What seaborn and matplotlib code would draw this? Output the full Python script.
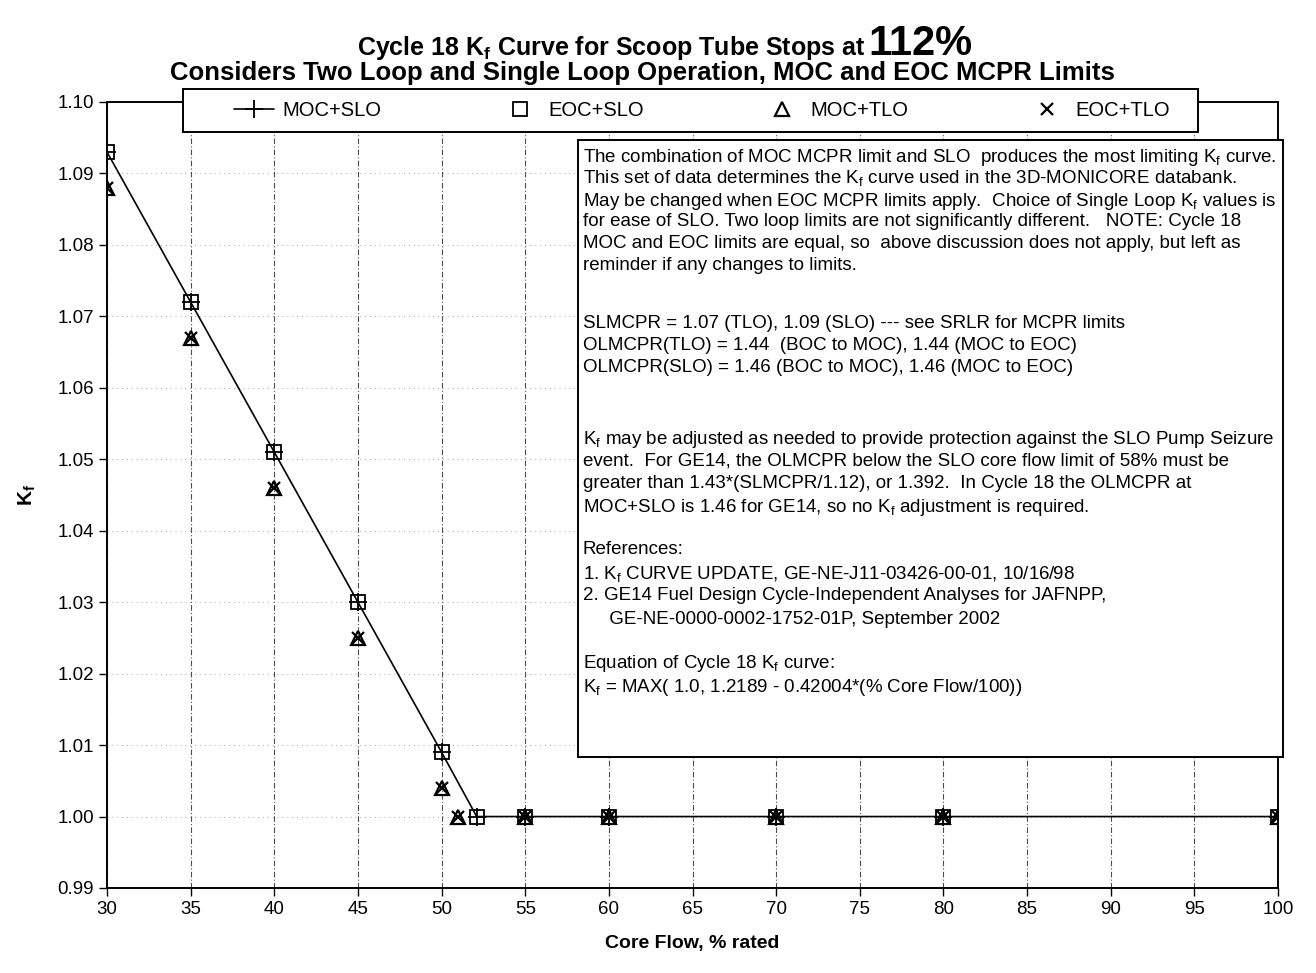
import matplotlib
matplotlib.use("Agg")
import matplotlib.pyplot as plt
import matplotlib.patches as mpatches
import seaborn as sns
import pandas as pd

# data
flow_slo = [30, 35, 40, 45, 50, 52.1, 55, 60, 70, 80, 100]
kf_moc_slo = [1.093, 1.072, 1.051, 1.030, 1.009, 1.000, 1.000, 1.000, 1.000, 1.000, 1.000]
kf_eoc_slo = [1.093, 1.072, 1.051, 1.030, 1.009, 1.000, 1.000, 1.000, 1.000, 1.000, 1.000]
flow_tlo = [30, 35, 40, 45, 50, 51, 55, 60, 70, 80, 100]
kf_moc_tlo = [1.088, 1.067, 1.046, 1.025, 1.004, 1.000, 1.000, 1.000, 1.000, 1.000, 1.000]
kf_eoc_tlo = [1.088, 1.067, 1.046, 1.025, 1.004, 1.000, 1.000, 1.000, 1.000, 1.000, 1.000]

x_ticks = [30, 35, 40, 45, 50, 55, 60, 65, 70, 75, 80, 85, 90, 95, 100]
y_ticks = [0.99, 1.00, 1.01, 1.02, 1.03, 1.04, 1.05, 1.06, 1.07, 1.08, 1.09, 1.10]

note_lines = [
    (154, "The combination of MOC MCPR limit and SLO  produces the most limiting K$_f$ curve."),
    (176, "This set of data determines the K$_f$ curve used in the 3D-MONICORE databank."),
    (198, "May be changed when EOC MCPR limits apply.  Choice of Single Loop K$_f$ values is"),
    (220, "for ease of SLO. Two loop limits are not significantly different.   NOTE: Cycle 18"),
    (242, "MOC and EOC limits are equal, so  above discussion does not apply, but left as"),
    (264, "reminder if any changes to limits."),
    (321, "SLMCPR = 1.07 (TLO), 1.09 (SLO) --- see SRLR for MCPR limits"),
    (344, "OLMCPR(TLO) = 1.44  (BOC to MOC), 1.44 (MOC to EOC)"),
    (366, "OLMCPR(SLO) = 1.46 (BOC to MOC), 1.46 (MOC to EOC)"),
    (436, "K$_f$ may be adjusted as needed to provide protection against the SLO Pump Seizure"),
    (459, "event.  For GE14, the OLMCPR below the SLO core flow limit of 58% must be"),
    (482, "greater than 1.43*(SLMCPR/1.12), or 1.392.  In Cycle 18 the OLMCPR at"),
    (505, "MOC+SLO is 1.46 for GE14, so no K$_f$ adjustment is required."),
    (548, "References:"),
    (571, "1. K$_f$ CURVE UPDATE, GE-NE-J11-03426-00-01, 10/16/98"),
    (594, "2. GE14 Fuel Design Cycle-Independent Analyses for JAFNPP,"),
    (617, "     GE-NE-0000-0002-1752-01P, September 2002"),
    (660, "Equation of Cycle 18 K$_f$ curve:"),
    (685, "K$_f$ = MAX( 1.0, 1.2189 - 0.42004*(% Core Flow/100))"),
]

df = pd.concat([
    pd.DataFrame({"flow": flow_slo, "kf": kf_moc_slo, "case": "MOC+SLO"}),
    pd.DataFrame({"flow": flow_slo, "kf": kf_eoc_slo, "case": "EOC+SLO"}),
    pd.DataFrame({"flow": flow_tlo, "kf": kf_moc_tlo, "case": "MOC+TLO"}),
    pd.DataFrame({"flow": flow_tlo, "kf": kf_eoc_tlo, "case": "EOC+TLO"}),
])

sns.set_theme(style="ticks")
plt.rcParams["font.family"] = ["Liberation Sans", "DejaVu Sans"]
plt.rcParams["mathtext.fontset"] = "custom"
plt.rcParams["mathtext.rm"] = "Liberation Sans"
plt.rcParams["mathtext.it"] = "Liberation Sans"
plt.rcParams["mathtext.bf"] = "Liberation Sans:bold"
for key in ["text.color", "axes.labelcolor", "xtick.color", "ytick.color", "axes.edgecolor"]:
    plt.rcParams[key] = "black"

W, H = 1316, 973
fig, ax = plt.subplots(figsize=(W / 100, H / 100), dpi=100)
fig.subplots_adjust(left=107 / W, right=1278 / W, top=1 - 102 / H, bottom=1 - 888 / H)

styles = {
    "MOC+SLO": dict(marker="+", markersize=13, markeredgewidth=1.3, linestyle="-", linewidth=1.2),
    "EOC+SLO": dict(marker="s", markersize=9.5, markeredgewidth=1.3, markerfacecolor="none", linestyle=""),
    "MOC+TLO": dict(marker="^", markersize=9.5, markeredgewidth=1.6, markerfacecolor="none", linestyle=""),
    "EOC+TLO": dict(marker="x", markersize=9, markeredgewidth=1.6, linestyle=""),
}
for case, kw in styles.items():
    sub = df[df["case"] == case]
    sns.lineplot(data=sub, x="flow", y="kf", ax=ax, color="black",
                 markeredgecolor="black", label=case, zorder=3, **kw)

ax.set_xlim(30, 100)
ax.set_ylim(0.99, 1.10)
ax.set_xticks(x_ticks)
ax.set_yticks(y_ticks)
ax.set_yticklabels([f"{v:.2f}" for v in y_ticks])
ax.tick_params(axis="both", labelsize=13.5, length=6, width=1, direction="out", color="black")
ax.xaxis.grid(True, color="0.3", linestyle=(0, (5, 2, 1, 2)), linewidth=0.8)
ax.yaxis.grid(True, color="0.65", linestyle=(0, (1, 4)), linewidth=0.7)
for s in ax.spines.values():
    s.set_visible(True)
    s.set_color("black")
    s.set_linewidth(1.4)

ax.set_xlabel("Core Flow, % rated", fontsize=14, fontweight="bold", labelpad=12)
ax.set_ylabel("K$_\\mathbf{f}$", fontsize=15, fontweight="bold", labelpad=14)

# legend: frame drawn separately so the entries can sit inset like the original
handles, labels = ax.get_legend_handles_labels()
ax.get_legend().remove()
leg_frame = mpatches.Rectangle((183 / W, 1 - 132 / H), (1198 - 183) / W, (132 - 89) / H,
                               transform=fig.transFigure, facecolor="white",
                               edgecolor="black", linewidth=1.4, zorder=4)
fig.patches.append(leg_frame)
fig.legend(handles, labels, loc="center left", ncol=4, mode="expand",
           bbox_to_anchor=(234 / W, 1 - 111 / H, (1170 - 234) / W, 0),
           frameon=False, fontsize=14.5, handlelength=2.0, handletextpad=0.4,
           borderaxespad=0, borderpad=0).set_zorder(6)

# title, with the larger 112%
title_fam = ["Liberation Sans Narrow", "Liberation Sans"]
fig.text(866 / W, 1 - 55 / H, "Cycle 18 K$_\\mathbf{f}$ Curve for Scoop Tube Stops at ",
         ha="right", va="baseline", fontsize=18, fontweight="bold", family=title_fam)
fig.text(868 / W, 1 - 55 / H, "112%", ha="left", va="baseline", fontsize=30,
         fontweight="bold", family=title_fam)
fig.text(642 / W, 1 - 80 / H, "Considers Two Loop and Single Loop Operation, MOC and EOC MCPR Limits",
         ha="center", va="baseline", fontsize=18.5, fontweight="bold", family=title_fam)

# note box
box = mpatches.Rectangle((578 / W, 1 - 757 / H), (1283 - 578) / W, (757 - 140) / H,
                         transform=fig.transFigure, facecolor="white", edgecolor="black",
                         linewidth=1.4, zorder=5)
fig.patches.append(box)
for ypix, txt in note_lines:
    fig.text(583 / W, 1 - ypix / H, txt, ha="left", va="center_baseline",
             fontsize=13.5, zorder=6)

fig.savefig("out.png", dpi=100)
